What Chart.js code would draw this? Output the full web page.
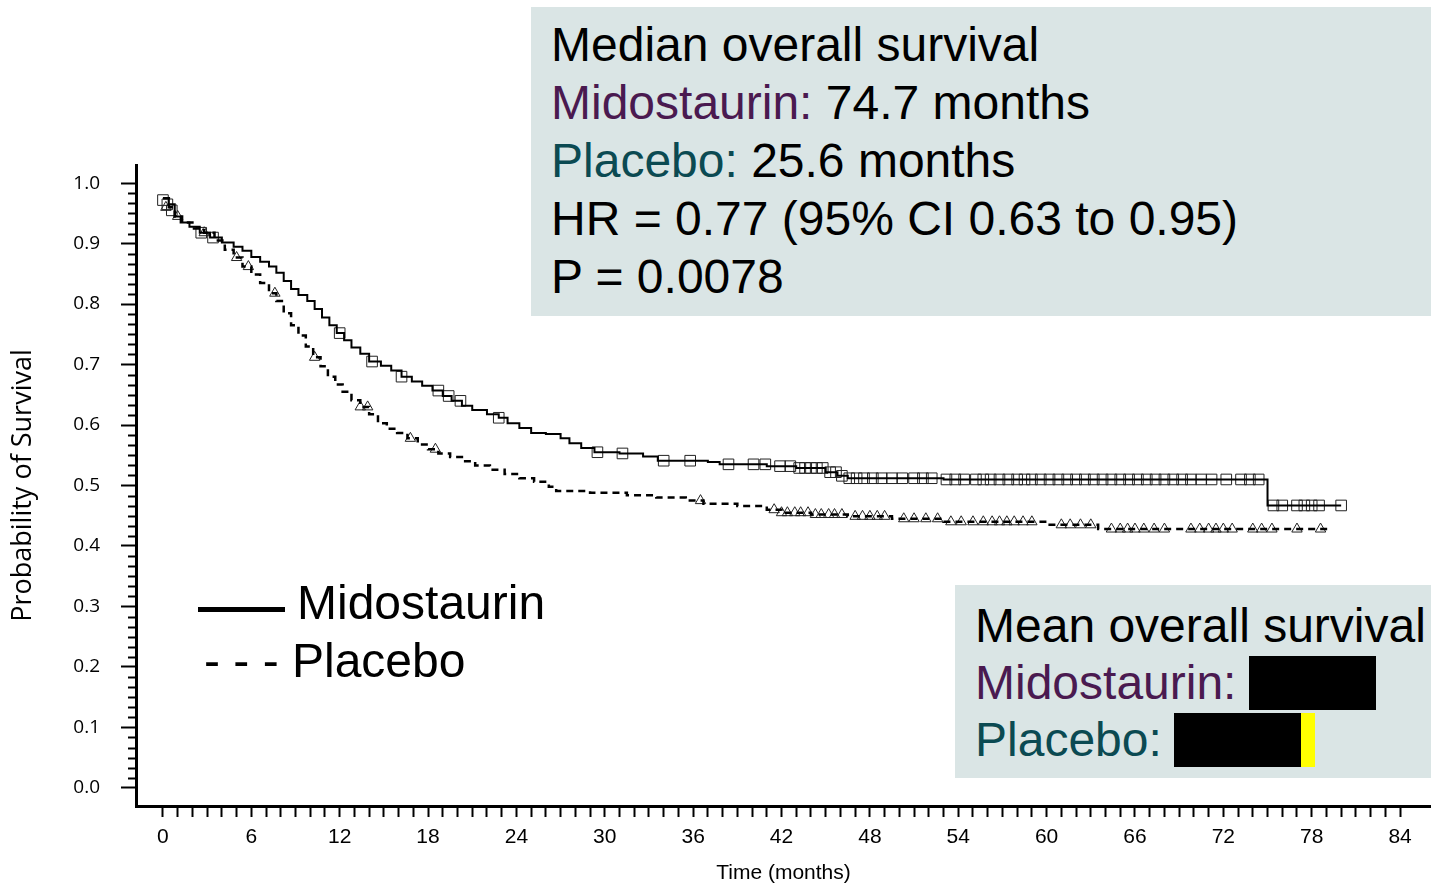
<!DOCTYPE html>
<html>
<head>
<meta charset="utf-8">
<script src="https://cdn.jsdelivr.net/npm/chart.js@4.4.1/dist/chart.umd.min.js"></script>
<style>
  body { margin: 0; background: #fff; }
  #wrap { position: relative; width: 1431px; height: 886px; font-family: 'Liberation Sans', Arial, sans-serif; }
  #c { position: absolute; left: 0; top: 0; }
  .box { position: absolute; background: #dae5e5; }
  .txt { position: absolute; font-size: 48px; white-space: nowrap; color: #000; }
  .mido { color: #4a1a50; }
  .plac { color: #0b4a52; }
  .blk { position: absolute; background: #000; }
</style>
</head>
<body>
<div id="wrap">
  <canvas id="c" width="1431" height="886"></canvas>

  <div class="box" style="left:531px;top:7px;width:900px;height:309px"></div>
  <div class="txt" style="left:551px;top:16px;line-height:58px">
    Median overall survival<br>
    <span class="mido">Midostaurin:</span> 74.7 months<br>
    <span class="plac">Placebo:</span> 25.6 months<br>
    HR = 0.77 (95% CI 0.63 to 0.95)<br>
    P = 0.0078
  </div>

  <div class="box" style="left:955px;top:585px;width:476px;height:193px"></div>
  <div class="txt" style="left:975px;top:597px;line-height:57px">
    Mean overall survival<br>
    <span class="mido">Midostaurin:</span><br>
    <span class="plac">Placebo:</span>
  </div>
  <div class="blk" style="left:1249px;top:656px;width:127px;height:54px"></div>
  <div class="blk" style="left:1174px;top:713px;width:127px;height:54px"></div>
  <div class="blk" style="left:1301px;top:713px;width:14px;height:54px;background:#ffff00"></div>

  <div class="blk" style="left:198px;top:607px;width:87px;height:5px"></div>
  <div class="txt" style="left:297px;top:574px;line-height:58px">Midostaurin</div>
  <div class="txt" style="left:204px;top:632px;line-height:58px">- - - Placebo</div>
</div>

<script>
// Kaplan-Meier curves: time (months), survival probability
const midoTime = [0,0.4,0.8,1.2,1.8,2.5,3.2,4.0,4.8,5.4,6.0,6.6,7.2,7.7,8.2,8.7,9.2,9.8,10.3,10.8,11.3,11.8,12.3,12.8,13.4,14.0,14.8,15.5,16.2,16.9,17.6,18.3,19.0,19.6,20.3,21.0,22.0,22.8,23.4,24.2,25.0,26.0,27.0,27.6,28.4,29.3,31.0,32.6,33.6,37.0,37.8,41.0,43.0,45.0,45.8,46.5,53.0,75.0,80.0];
const midoSurv = [0.975,0.965,0.945,0.935,0.928,0.918,0.91,0.902,0.895,0.888,0.878,0.870,0.862,0.852,0.838,0.825,0.815,0.805,0.792,0.778,0.765,0.752,0.74,0.728,0.718,0.705,0.698,0.69,0.68,0.672,0.665,0.657,0.648,0.64,0.632,0.625,0.618,0.612,0.603,0.595,0.587,0.585,0.578,0.57,0.562,0.555,0.553,0.548,0.541,0.539,0.535,0.532,0.529,0.522,0.516,0.512,0.510,0.467,0.467];

const placTime = [0,0.4,0.8,1.3,2.0,2.8,3.5,4.2,4.8,5.4,6.0,6.6,7.2,7.7,8.2,8.7,9.2,9.7,10.2,10.7,11.2,11.7,12.2,12.8,13.4,14.0,14.6,15.2,15.9,16.6,17.3,18.0,18.7,19.5,20.3,21.2,22.2,23.2,24.2,25.2,26.2,26.7,29.0,31.5,33.5,35.5,36.7,39.0,41.0,42.0,44.0,46.5,49.5,53.0,60.0,63.5,79.3];
const placSurv = [0.975,0.96,0.945,0.935,0.925,0.918,0.905,0.89,0.877,0.862,0.849,0.835,0.818,0.805,0.785,0.765,0.748,0.73,0.712,0.697,0.68,0.667,0.655,0.641,0.63,0.618,0.603,0.594,0.587,0.578,0.568,0.56,0.553,0.547,0.54,0.533,0.526,0.519,0.512,0.506,0.498,0.491,0.488,0.484,0.48,0.475,0.47,0.466,0.46,0.455,0.452,0.449,0.445,0.44,0.435,0.428,0.428];

// censored patients [time, survival]
const midoCensored = [[0.0,0.972],[0.3,0.965],[0.6,0.955],[2.6,0.918],[3.4,0.91],[12.0,0.752],[14.2,0.705],[16.2,0.68],[18.7,0.657],[19.4,0.648],[20.2,0.64],[22.8,0.612],[29.5,0.555],[31.2,0.553],[34.0,0.541],[35.8,0.541],[38.4,0.535],[40.1,0.535],[40.9,0.535],[41.9,0.532],[42.6,0.532],[43.2,0.529],[43.6,0.529],[44.0,0.529],[44.4,0.529],[44.8,0.529],[45.3,0.522],[45.7,0.522],[46.1,0.516],[46.6,0.512],[47.1,0.512],[47.6,0.512],[48.2,0.512],[48.8,0.512],[49.5,0.512],[50.2,0.512],[51.0,0.512],[51.6,0.512],[52.2,0.512],[53.2,0.51],[53.8,0.51],[54.4,0.51],[55.2,0.51],[55.7,0.51],[56.2,0.51],[56.8,0.51],[57.4,0.51],[58.0,0.51],[58.5,0.51],[59.0,0.51],[59.6,0.51],[60.2,0.51],[60.8,0.51],[61.4,0.51],[62.0,0.51],[62.6,0.51],[63.2,0.51],[63.8,0.51],[64.4,0.51],[65.0,0.51],[65.6,0.51],[66.2,0.51],[66.8,0.51],[67.4,0.51],[68.0,0.51],[68.6,0.51],[69.2,0.51],[69.8,0.51],[70.5,0.51],[71.2,0.51],[72.2,0.51],[73.2,0.51],[73.8,0.51],[74.4,0.51],[75.4,0.467],[76.0,0.467],[77.0,0.467],[77.5,0.467],[78.0,0.467],[78.5,0.467],[80.0,0.467]];
const placCensored = [[0.2,0.96],[1.0,0.945],[2.8,0.918],[5.0,0.877],[5.8,0.862],[7.6,0.818],[10.3,0.712],[13.4,0.63],[13.9,0.63],[16.8,0.578],[18.5,0.56],[36.5,0.475],[41.5,0.46],[42.0,0.455],[42.4,0.455],[42.9,0.455],[43.3,0.455],[43.8,0.455],[44.3,0.452],[44.7,0.452],[45.2,0.452],[45.6,0.452],[46.1,0.452],[47.0,0.449],[47.5,0.449],[48.0,0.449],[48.5,0.449],[49.0,0.449],[50.3,0.445],[51.0,0.445],[51.8,0.445],[52.6,0.445],[53.5,0.44],[54.2,0.44],[55.0,0.44],[55.7,0.44],[56.3,0.44],[56.8,0.44],[57.3,0.44],[57.8,0.44],[58.4,0.44],[59.0,0.44],[61.0,0.435],[61.6,0.435],[62.3,0.435],[63.0,0.435],[64.4,0.428],[65.0,0.428],[65.5,0.428],[66.0,0.428],[66.6,0.428],[67.3,0.428],[68.0,0.428],[69.8,0.428],[70.4,0.428],[71.0,0.428],[71.5,0.428],[72.0,0.428],[72.6,0.428],[74.0,0.428],[74.6,0.428],[75.3,0.428],[77.0,0.428],[78.6,0.428]];

// axis ticks
const xTicks = [];
for (let m = 0; m <= 84; m++) xTicks.push(m);
const yTicks = [0,0.1,0.2,0.3,0.4,0.5,0.6,0.7,0.8,0.9,1.0];

const toXY = (t, s) => t.map((v, i) => ({ x: v, y: s[i] }));
const pairs = p => p.map(d => ({ x: d[0], y: d[1] }));

// small ticks between the labelled ones on the y axis
const yMinorTicks = {
  id: 'yMinorTicks',
  afterDraw(chart) {
    const y = chart.scales.y, ctx = chart.ctx;
    ctx.save();
    ctx.strokeStyle = '#000';
    ctx.lineWidth = 2;
    for (let k = 0; k <= 60; k++) {
      if (k % 6 === 0) continue;
      const py = Math.round(y.getPixelForValue(k / 60)) + 0.5;
      ctx.beginPath();
      ctx.moveTo(y.right - 8, py);
      ctx.lineTo(y.right, py);
      ctx.stroke();
    }
    ctx.restore();
  }
};

new Chart(document.getElementById('c'), {
  type: 'line',
  data: {
    datasets: [
      {
        label: 'Midostaurin',
        data: toXY(midoTime, midoSurv),
        stepped: true,
        borderColor: '#000',
        borderWidth: 2,
        pointRadius: 0,
        fill: false
      },
      {
        label: 'Placebo',
        data: toXY(placTime, placSurv),
        stepped: true,
        borderColor: '#000',
        borderWidth: 2.5,
        borderDash: [7, 5],
        pointRadius: 0,
        fill: false
      },
      {
        label: 'Midostaurin censored',
        type: 'scatter',
        data: pairs(midoCensored),
        pointStyle: 'rect',
        pointRadius: 7.5,
        pointBorderWidth: 1,
        pointBorderColor: '#222',
        pointBackgroundColor: 'rgba(0,0,0,0)',
        showLine: false
      },
      {
        label: 'Placebo censored',
        type: 'scatter',
        data: pairs(placCensored),
        pointStyle: 'triangle',
        pointRadius: 6,
        pointBorderWidth: 1,
        pointBorderColor: '#222',
        pointBackgroundColor: 'rgba(0,0,0,0)',
        showLine: false
      }
    ]
  },
  options: {
    responsive: false,
    animation: false,
    devicePixelRatio: 1,
    layout: { autoPadding: false, padding: { top: 165, right: 0, left: 0, bottom: 0 } },
    plugins: { legend: { display: false }, tooltip: { enabled: false } },
    scales: {
      x: {
        type: 'linear',
        min: -1.83,
        max: 86.1,
        border: { color: '#000', width: 3 },
        grid: { drawOnChartArea: false, tickLength: 11, tickColor: '#000', tickWidth: 2 },
        afterBuildTicks: s => { s.ticks = xTicks.map(v => ({ value: v })); },
        afterFit: s => { s.height = 80; s.paddingRight = 0; s.paddingLeft = 0; },
        ticks: {
          autoSkip: false,
          maxRotation: 0,
          padding: 8,
          color: '#000',
          font: { family: "'Liberation Sans', Arial, sans-serif", size: 21 },
          callback: v => (v % 6 === 0 ? String(v) : '')
        },
        title: {
          display: true,
          text: 'Time (months)',
          color: '#000',
          padding: { top: 0, bottom: 0 },
          font: { family: "'Liberation Sans', Arial, sans-serif", size: 21 }
        }
      },
      y: {
        type: 'linear',
        min: -0.03,
        max: 1.03,
        border: { color: '#000', width: 3 },
        grid: { drawOnChartArea: false, tickLength: 15, tickColor: '#000', tickWidth: 2 },
        afterBuildTicks: s => { s.ticks = yTicks.map(v => ({ value: v })); },
        afterFit: s => { s.width = 136; },
        ticks: {
          padding: 21,
          color: '#000',
          font: { family: "'Open Sans', sans-serif", size: 19 },
          callback: v => v.toFixed(1)
        },
        title: {
          display: true,
          text: 'Probability of Survival',
          color: '#000',
          padding: { top: 7, bottom: 0 },
          font: { family: "'Open Sans', sans-serif", size: 27 }
        }
      }
    }
  },
  plugins: [yMinorTicks]
});
</script>
</body>
</html>
